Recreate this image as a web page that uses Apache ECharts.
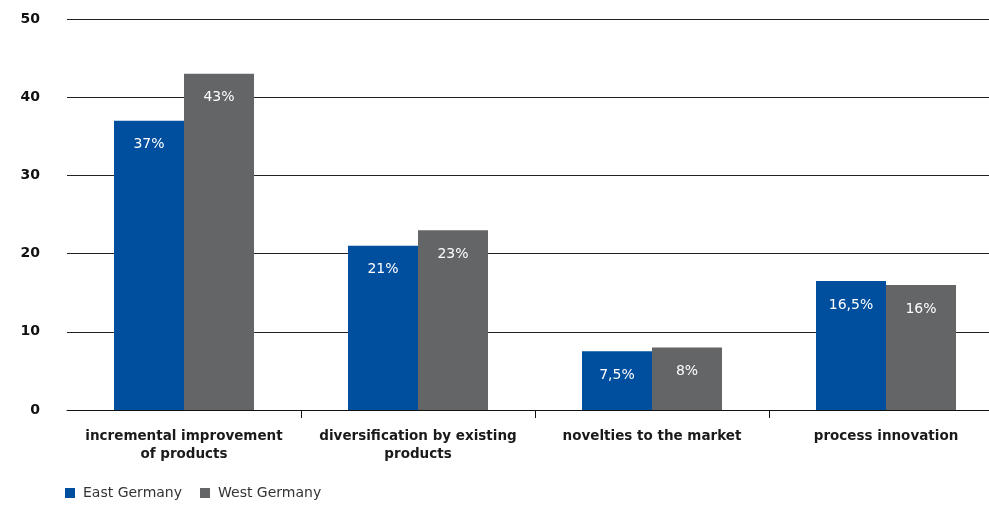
<!DOCTYPE html>
<html>
<head>
<meta charset="utf-8">
<script src="https://cdn.jsdelivr.net/npm/echarts@6/dist/echarts.min.js"></script>
<style>
  html, body { margin: 0; padding: 0; background: #fff; overflow: hidden; }
  /* the plot area runs a little past the right edge of the window */
  #chart { width: 1003px; height: 507px; }
</style>
</head>
<body>
<div id="chart"></div>
<script>
// Innovation types, share of firms (%)
var categories = [
  'incremental improvement\nof products',
  'diversification by existing\nproducts',
  'novelties to the market',
  'process innovation'
];
var seriesNames = ['East Germany', 'West Germany'];
var eastValues = [37, 21, 7.5, 16.5];
var westValues = [43, 23, 8, 16];
var yTicks = [0, 10, 20, 30, 40, 50];

var FONT = '"DejaVu Sans", sans-serif';
var EAST_COLOR = '#004f9f';
var WEST_COLOR = '#646567';

function pctLabel(p) {
  return String(p.value).replace('.', ',') + '%';
}

var chart = echarts.init(document.getElementById('chart'), null, { renderer: 'canvas' });

chart.setOption({
  animation: false,
  textStyle: { fontFamily: FONT },
  grid: { left: 67, right: 0, top: 19, bottom: 97, containLabel: false },
  legend: {
    left: 60,
    bottom: 2,
    itemWidth: 10,
    itemHeight: 10,
    itemGap: 18,
    icon: 'rect',
    textStyle: { fontFamily: FONT, fontSize: 14, color: '#333', padding: [0, 0, 0, 3] },
    data: seriesNames
  },
  xAxis: {
    type: 'category',
    data: categories,
    axisLine: { lineStyle: { color: '#111', width: 1 } },
    axisTick: {
      show: true,
      length: 8,
      lineStyle: { color: '#111' },
      interval: function (index) { return index > 0; }
    },
    axisLabel: {
      interval: 0,
      margin: 17,
      fontFamily: FONT,
      fontSize: 13.5,
      fontWeight: 'bold',
      color: '#1a1a1a',
      lineHeight: 18
    }
  },
  yAxis: {
    type: 'value',
    min: yTicks[0],
    max: yTicks[yTicks.length - 1],
    interval: 10,
    axisLine: { show: false },
    axisTick: { show: false },
    axisLabel: {
      margin: 27,
      fontFamily: FONT,
      fontSize: 14,
      fontWeight: 'bold',
      color: '#111'
    },
    splitLine: { lineStyle: { color: '#222', width: 1 } }
  },
  series: [
    {
      name: seriesNames[0],
      type: 'bar',
      data: eastValues,
      barWidth: 70,
      barGap: '0%',
      itemStyle: { color: EAST_COLOR },
      label: {
        show: true,
        position: 'insideTop',
        distance: 17,
        color: '#fff',
        fontFamily: FONT,
        fontSize: 14,
        formatter: pctLabel
      }
    },
    {
      name: seriesNames[1],
      type: 'bar',
      data: westValues,
      barWidth: 70,
      barGap: '0%',
      itemStyle: { color: WEST_COLOR },
      label: {
        show: true,
        position: 'insideTop',
        distance: 17,
        color: '#fff',
        fontFamily: FONT,
        fontSize: 14,
        formatter: pctLabel
      }
    }
  ]
});
</script>
</body>
</html>
